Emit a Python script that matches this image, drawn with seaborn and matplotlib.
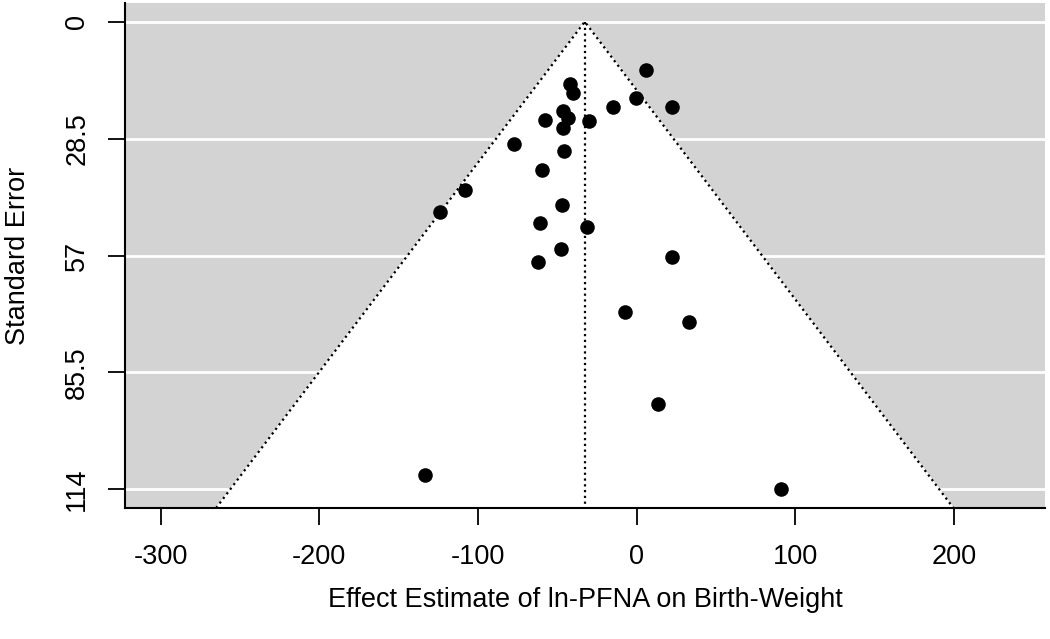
import numpy as np
import pandas as pd
import seaborn as sns
import matplotlib.pyplot as plt

# effect estimates and standard errors
effect = [5.7, -41.9, -40.3, -0.3, 22.0, -15.1, -46.2, -43.2, -57.7, -30.0,
          -46.2, -77.2, -45.5, -59.7, -108.4, -123.7, -46.8, -60.6, -31.4,
          -47.8, 22.4, -62.3, -7.4, 33.1, 13.6, -133.3, 91.2]
se = [11.7, 15.3, 17.4, 18.5, 20.7, 20.7, 21.8, 23.5, 23.9, 24.3,
      25.8, 29.9, 31.5, 36.1, 41.0, 46.5, 44.6, 49.1, 50.1,
      55.5, 57.4, 58.7, 70.8, 73.1, 93.1, 110.5, 114.0]
pooled = -32.7
yticks = [0, 28.5, 57, 85.5, 114]
ytick_labels = ['0', '28.5', '57', '85.5', '114']
xticks = [-300, -200, -100, 0, 100, 200]

d = pd.DataFrame({'effect': effect, 'se': se})

plt.rcParams['font.family'] = ['Liberation Sans', 'DejaVu Sans']
fig = plt.figure(figsize=(10.5, 6.39), dpi=100)
ax = fig.add_axes([125/1050, 1 - 508/639, 920/1050, 505/639])

ymax = max(yticks) * 1.04
ymin = -max(yticks) * 0.04
ax.set_facecolor('#d3d3d3')
ax.set_xlim(-322.5, 257.4)
ax.set_ylim(ymax, ymin)

for t in yticks:
    ax.axhline(t, color='white', lw=2, zorder=1)

# funnel (pseudo 95% region)
fx = [pooled - 1.96 * ymax, pooled, pooled + 1.96 * ymax]
fy = [ymax, 0, ymax]
ax.fill(fx, fy, color='white', zorder=2)
ax.plot(fx, fy, color='black', ls=(0, (1, 1.6)), lw=1.6, zorder=3)
ax.plot([pooled, pooled], [0, ymax], color='black', ls=(0, (1, 1.6)), lw=1.6, zorder=3)

sns.scatterplot(data=d, x='effect', y='se', color='black', s=110,
                edgecolor='black', linewidth=0, ax=ax, zorder=4)

ax.set_xticks(xticks)
ax.set_xticklabels([str(v) for v in xticks])
ax.set_yticks(yticks)
ax.set_yticklabels(ytick_labels, rotation=90, va='center')
ax.tick_params(axis='both', labelsize=19.5, length=12, width=1.3, color='black')
ax.tick_params(axis='x', pad=14)
ax.tick_params(axis='y', pad=13)
for s in ['top', 'right']:
    ax.spines[s].set_visible(False)
for s in ['left', 'bottom']:
    ax.spines[s].set_linewidth(1.5)
    ax.spines[s].set_color('black')

ax.set_xlabel('Effect Estimate of ln-PFNA on Birth-Weight', fontsize=19.5, labelpad=12)
ax.set_ylabel('Standard Error', fontsize=19.5, labelpad=24)

fig.savefig('out.png', dpi=100)
